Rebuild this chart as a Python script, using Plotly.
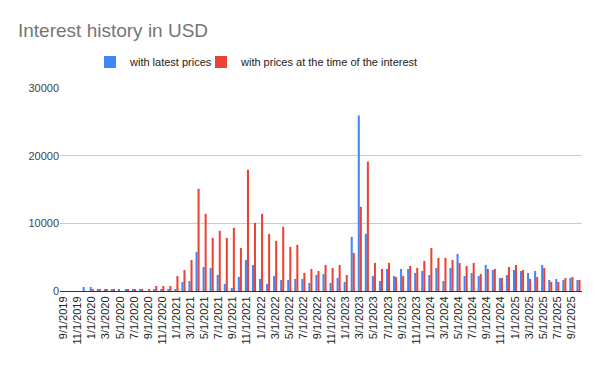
import plotly.graph_objects as go

months = [
    "9/1/2019", "10/1/2019", "11/1/2019", "12/1/2019",
    "1/1/2020", "2/1/2020", "3/1/2020", "4/1/2020", "5/1/2020", "6/1/2020",
    "7/1/2020", "8/1/2020", "9/1/2020", "10/1/2020", "11/1/2020", "12/1/2020",
    "1/1/2021", "2/1/2021", "3/1/2021", "4/1/2021", "5/1/2021", "6/1/2021",
    "7/1/2021", "8/1/2021", "9/1/2021", "10/1/2021", "11/1/2021", "12/1/2021",
    "1/1/2022", "2/1/2022", "3/1/2022", "4/1/2022", "5/1/2022", "6/1/2022",
    "7/1/2022", "8/1/2022", "9/1/2022", "10/1/2022", "11/1/2022", "12/1/2022",
    "1/1/2023", "2/1/2023", "3/1/2023", "4/1/2023", "5/1/2023", "6/1/2023",
    "7/1/2023", "8/1/2023", "9/1/2023", "10/1/2023", "11/1/2023", "12/1/2023",
    "1/1/2024", "2/1/2024", "3/1/2024", "4/1/2024", "5/1/2024", "6/1/2024",
    "7/1/2024", "8/1/2024", "9/1/2024", "10/1/2024", "11/1/2024", "12/1/2024",
    "1/1/2025", "2/1/2025", "3/1/2025", "4/1/2025", "5/1/2025", "6/1/2025",
    "7/1/2025", "8/1/2025", "9/1/2025", "10/1/2025",
]

latest_prices = [
    0, 0, 0, 600,
    600, 300, 150, 150, 150, 150,
    150, 150, 0, 150, 150, 150,
    300, 1330, 1480, 5780, 3560, 3410,
    2370, 1040, 445, 2070, 4590, 3850,
    1780, 1040, 2220, 1630, 1630, 1780,
    1780, 1190, 2370, 2520, 1190, 1930,
    1330, 8000, 25940, 8450, 2220, 1480,
    3260, 2220, 3260, 3260, 2670, 2960,
    2370, 3410, 1480, 3410, 5480, 2220,
    2670, 2220, 3850, 3110, 1930, 2370,
    3110, 2960, 2670, 2960, 3850, 1630,
    1780, 1630, 1930, 1630,
]

prices_at_time = [
    0, 0, 0, 0,
    150, 150, 150, 150, 0, 150,
    300, 150, 150, 740, 740, 740,
    2220, 3110, 4590, 15100, 11410, 7850,
    8890, 7850, 9340, 6370, 17930, 10080,
    11410, 8450, 7410, 9490, 6520, 6820,
    2670, 3260, 2960, 3850, 3410, 3850,
    2370, 5630, 12450, 19120, 4150, 3260,
    4150, 2070, 2220, 3700, 3410, 4450,
    6370, 4890, 4890, 4590, 4150, 3700,
    4150, 2520, 3260, 3260, 1930, 3560,
    3850, 3110, 1780, 2070, 3410, 1330,
    1330, 1930, 2070, 1630,
]

tick_labels = months[::2]
y_ticks = [0, 10000, 20000, 30000]

font_family = "Liberation Sans, Arial, sans-serif"

fig = go.Figure()
fig.add_trace(go.Bar(x=months, y=latest_prices, name="with latest prices",
                     legend="legend", showlegend=True,
                     marker=dict(color="#4285F4", line=dict(width=0))))
fig.add_trace(go.Bar(x=months, y=prices_at_time, name="with prices at the time of the interest",
                     legend="legend2", showlegend=True,
                     marker=dict(color="#EA4335", line=dict(width=0))))

legend_common = dict(orientation="h", xanchor="left", y=1 + 26/203, yanchor="middle",
                     font=dict(family=font_family, size=11, color="#222222"),
                     itemwidth=30, bgcolor="rgba(0,0,0,0)", visible=True)

fig.update_layout(
    width=600, height=371,
    showlegend=True,
    margin=dict(l=60, r=18, t=88, b=80),
    paper_bgcolor="white", plot_bgcolor="white",
    barmode="group", bargap=0.42, bargroupgap=0,
    font=dict(family=font_family, size=12, color="#222222"),
    title=dict(text="Interest history in USD", x=18/600, xanchor="left",
               xref="container", yref="container", y=1 - 30/371, yanchor="middle",
               font=dict(family=font_family, size=19, color="#757575")),
    legend=dict(x=30/522, **legend_common),
    legend2=dict(x=141/522, **legend_common),
    xaxis=dict(type="category", categoryorder="array", categoryarray=months,
               tickmode="array", tickvals=tick_labels, ticktext=tick_labels,
               tickangle=-90, showgrid=False, ticks="", showline=True,
               linecolor="#333333", linewidth=1,
               tickfont=dict(family=font_family, size=11, color="#222222")),
    yaxis=dict(range=[0, 30000], tickmode="array", tickvals=y_ticks,
               ticktext=[str(v) for v in y_ticks], showgrid=True,
               gridcolor="#CCCCCC", gridwidth=1, zeroline=False, ticks="",
               tickfont=dict(family=font_family, size=11, color="#444444")),
)

fig.write_html("out.html")
